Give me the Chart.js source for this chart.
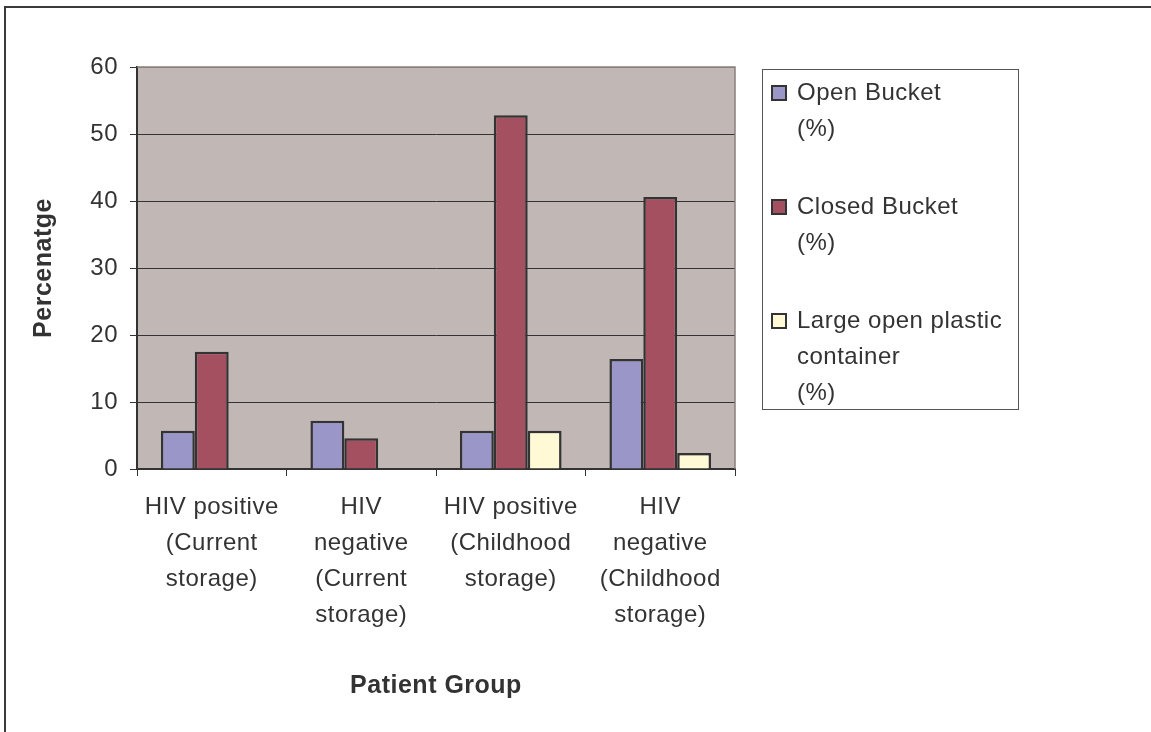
<!DOCTYPE html>
<html>
<head>
<meta charset="utf-8">
<title>Water storage container by patient group</title>
<script src="https://cdn.jsdelivr.net/npm/chart.js@4.4.1/dist/chart.umd.min.js"></script>
<style>
  html, body { margin: 0; padding: 0; background: #ffffff; }
  canvas { display: block; }
</style>
</head>
<body>
<canvas id="chart" width="1151" height="732"></canvas>
<script>
// Patient groups (multi-line category labels)
const categories = [
  ['HIV positive', '(Current', 'storage)'],
  ['HIV', 'negative', '(Current', 'storage)'],
  ['HIV positive', '(Childhood', 'storage)'],
  ['HIV', 'negative', '(Childhood', 'storage)']
];

// Percentage of patients per storage container type
const openBucket   = [5.7, 7.2, 5.7, 16.4];
const closedBucket = [17.5, 4.6, 52.8, 40.6];
const largeOpenPlasticContainer = [null, null, 5.7, 2.4];

// Legend text, one array of lines per series
const openBucketLegend   = ['Open Bucket', '(%)'];
const closedBucketLegend = ['Closed Bucket', '(%)'];
const largeContainerLegend = ['Large open plastic', 'container', '(%)'];

// Y axis range and step
const yMin = 0;
const yMax = 60;
const yStep = 10;

const FONT = '"Liberation Sans", Arial, Helvetica, sans-serif';
const TEXT = '#333333';
const AXIS = '#333333';
const FRAME_LINE = '#8c807e';
const PLOT_BG = '#c1b7b4';
const SPACING = '0.5px';

const seriesLegends = [openBucketLegend, closedBucketLegend, largeContainerLegend];

// Slight letter spacing, like the spreadsheet renderer
const spacingPlugin = {
  id: 'spacing',
  beforeInit(chart) { chart.ctx.letterSpacing = SPACING; },
  beforeUpdate(chart) { chart.ctx.letterSpacing = SPACING; }
};

// Outer frame and plot background
const backgroundPlugin = {
  id: 'plotBackground',
  beforeDraw(chart) {
    const { ctx, chartArea: a } = chart;
    ctx.save();
    ctx.fillStyle = '#ffffff';
    ctx.fillRect(0, 0, chart.width, chart.height);
    ctx.strokeStyle = '#3a3a3a';
    ctx.lineWidth = 2;
    ctx.beginPath();
    ctx.moveTo(5, chart.height + 2);
    ctx.lineTo(5, 7);
    ctx.lineTo(chart.width + 2, 7);
    ctx.stroke();
    ctx.fillStyle = PLOT_BG;
    ctx.fillRect(a.left, a.top, a.right - a.left, a.bottom - a.top);
    ctx.restore();
  },
  beforeDatasetsDraw(chart) {
    const { ctx, chartArea: a } = chart;
    ctx.save();
    ctx.strokeStyle = FRAME_LINE;
    ctx.lineWidth = 1.5;
    ctx.beginPath();
    ctx.moveTo(a.left, a.top);
    ctx.lineTo(a.right, a.top);
    ctx.lineTo(a.right, a.bottom);
    ctx.stroke();
    ctx.restore();
  }
};

// Boxed legend on the right with wrapped labels
const boxLegendPlugin = {
  id: 'boxLegend',
  afterDraw(chart) {
    const { ctx } = chart;
    const box = { x: 762, y: 69, w: 256, h: 340 };
    ctx.save();
    ctx.letterSpacing = SPACING;
    ctx.strokeStyle = '#555555';
    ctx.lineWidth = 1;
    ctx.strokeRect(box.x + 0.5, box.y + 0.5, box.w, box.h);
    const lineH = 36;
    const itemStep = 114;
    ctx.font = '24px ' + FONT;
    ctx.textBaseline = 'middle';
    ctx.textAlign = 'left';
    chart.data.datasets.forEach((ds, i) => {
      const cy = 93 + i * itemStep;
      ctx.fillStyle = ds.backgroundColor;
      ctx.fillRect(772, cy - 7, 14, 14);
      ctx.strokeStyle = '#333333';
      ctx.lineWidth = 2;
      ctx.strokeRect(772, cy - 7, 14, 14);
      ctx.fillStyle = TEXT;
      seriesLegends[i].forEach((line, j) => {
        ctx.fillText(line, 797, cy + j * lineH);
      });
    });
    ctx.restore();
  }
};

new Chart(document.getElementById('chart'), {
  type: 'bar',
  data: {
    labels: categories,
    datasets: [
      { label: openBucketLegend.join(' '), data: openBucket, backgroundColor: '#9a96c8' },
      { label: closedBucketLegend.join(' '), data: closedBucket, backgroundColor: '#a55060' },
      { label: largeContainerLegend.join(' '), data: largeOpenPlasticContainer, backgroundColor: '#fffad5' }
    ]
  },
  options: {
    responsive: false,
    animation: false,
    devicePixelRatio: 1,
    layout: { padding: { left: 0, top: 67, right: 416, bottom: 0 } },
    datasets: {
      bar: {
        borderColor: '#333333',
        borderWidth: 2.5,
        barPercentage: 1,
        categoryPercentage: 0.68
      }
    },
    plugins: {
      legend: { display: false },
      tooltip: { enabled: false }
    },
    scales: {
      x: {
        offset: true,
        grid: {
          offset: true,
          drawOnChartArea: false,
          drawTicks: true,
          tickLength: 7,
          tickColor: AXIS,
          lineWidth: 1
        },
        border: { color: AXIS, width: 2 },
        ticks: {
          color: TEXT,
          padding: 13,
          maxRotation: 0,
          autoSkip: false,
          font: { family: FONT, size: 24, lineHeight: 1.5 }
        },
        title: {
          display: true,
          text: 'Patient Group',
          color: TEXT,
          font: { family: FONT, size: 25, weight: 'bold', lineHeight: 1.2 },
          padding: { top: 0, bottom: 31 }
        },
        afterFit(scale) { scale.height = 263; }
      },
      y: {
        min: yMin,
        max: yMax,
        grid: {
          color: (c) => (c.tick && c.tick.value === yMax ? FRAME_LINE : AXIS),
          lineWidth: 1,
          tickLength: 7,
          tickColor: AXIS
        },
        border: { color: AXIS, width: 2 },
        ticks: {
          stepSize: yStep,
          color: TEXT,
          padding: 12,
          font: { family: FONT, size: 24 }
        },
        title: {
          display: true,
          text: 'Percenatge',
          color: TEXT,
          font: { family: FONT, size: 25, weight: 'bold', lineHeight: 1.2 },
          padding: { top: 29, bottom: 0 }
        },
        afterFit(scale) { scale.width = 137; }
      }
    }
  },
  plugins: [spacingPlugin, backgroundPlugin, boxLegendPlugin]
});
</script>
</body>
</html>
